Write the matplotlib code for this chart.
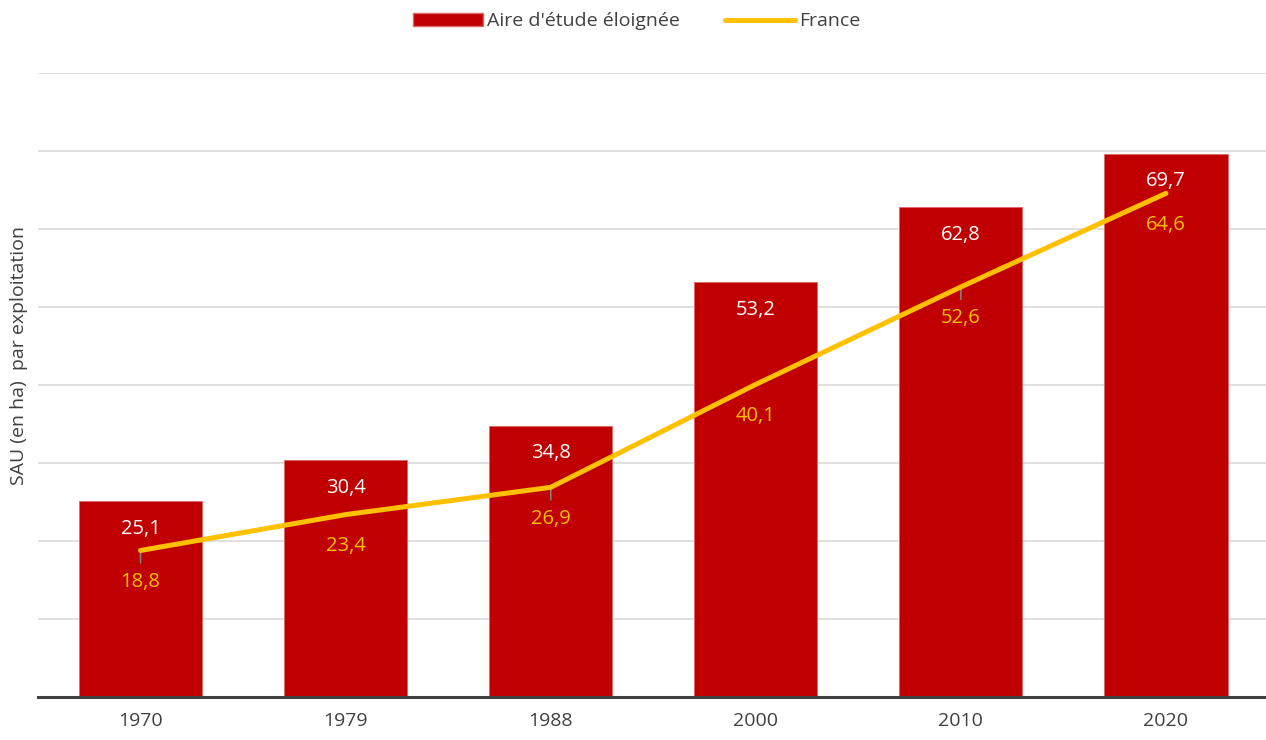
import matplotlib.pyplot as plt
from matplotlib.lines import Line2D
from matplotlib.patches import Patch

plt.rcParams['font.family'] = ['Open Sans', 'DejaVu Sans']

# data
years = ['1970', '1979', '1988', '2000', '2010', '2020']
aire_eloignee = [25.1, 30.4, 34.8, 53.2, 62.8, 69.7]
france = [18.8, 23.4, 26.9, 40.1, 52.6, 64.6]
leader_idx = [0, 2, 4]  # labels with a small leader line

BAR_COLOR = '#C00000'
LINE_COLOR = '#FFC000'
TEXT_COLOR = '#404040'

fig = plt.figure(figsize=(12.66, 7.40), dpi=100)
ax = fig.add_axes([0.030, 0.058, 0.972, 0.843])

x = range(len(years))
ax.bar(x, aire_eloignee, width=0.6, color=BAR_COLOR, edgecolor='#E06666',
       linewidth=0.6, zorder=2)
ax.plot(x, france, color=LINE_COLOR, linewidth=3.6, solid_capstyle='round', zorder=3)

for i, v in enumerate(aire_eloignee):
    ax.annotate(f"{v:.1f}".replace('.', ','), (i, v), xytext=(0, -20),
                textcoords='offset points', ha='center', va='center',
                color='white', fontsize=14.5, zorder=4)
for i, v in enumerate(france):
    ax.annotate(f"{v:.1f}".replace('.', ','), (i, v), xytext=(0, -22.5),
                textcoords='offset points', ha='center', va='center',
                color=LINE_COLOR, fontsize=14.5, zorder=4)
for i in leader_idx:
    ax.annotate('', xy=(i, france[i]), xytext=(i, france[i] - 1.6),
                arrowprops=dict(arrowstyle='-', color='#7F7F7F', lw=1.2,
                                shrinkA=0, shrinkB=0), zorder=2.5)

ax.set_xlim(-0.5, len(years) - 0.5)
ax.set_ylim(0, 80)
ax.set_yticks(range(0, 81, 10))
ax.set_yticklabels([])
ax.tick_params(axis='y', length=0)
ax.tick_params(axis='x', length=0, pad=11, labelsize=14, labelcolor=TEXT_COLOR)
ax.set_xticks(list(x))
ax.set_xticklabels(years)
ax.grid(axis='y', color='#D9D9D9', linewidth=1.2, zorder=0)
ax.set_axisbelow(True)
for s in ['top', 'right', 'left']:
    ax.spines[s].set_visible(False)
ax.spines['bottom'].set_color(TEXT_COLOR)
ax.spines['bottom'].set_linewidth(2.2)
ax.spines['bottom'].set_zorder(5)

fig.text(0.015, 0.52, 'SAU (en ha)  par exploitation', rotation=90,
         ha='center', va='center', fontsize=14, color=TEXT_COLOR)

handles = [Patch(facecolor=BAR_COLOR, edgecolor='#E06666'),
           Line2D([0], [0], color=LINE_COLOR, linewidth=3.6, solid_capstyle='round')]
fig.legend(handles, ["Aire d'étude éloignée", 'France'], loc='center',
           bbox_to_anchor=(0.503, 0.971), ncol=2, frameon=False, fontsize=14,
           labelcolor=TEXT_COLOR, handlelength=3.6, handleheight=0.65,
           handletextpad=0.2, columnspacing=2.3)

fig.savefig('out.png', dpi=100, facecolor='white')
